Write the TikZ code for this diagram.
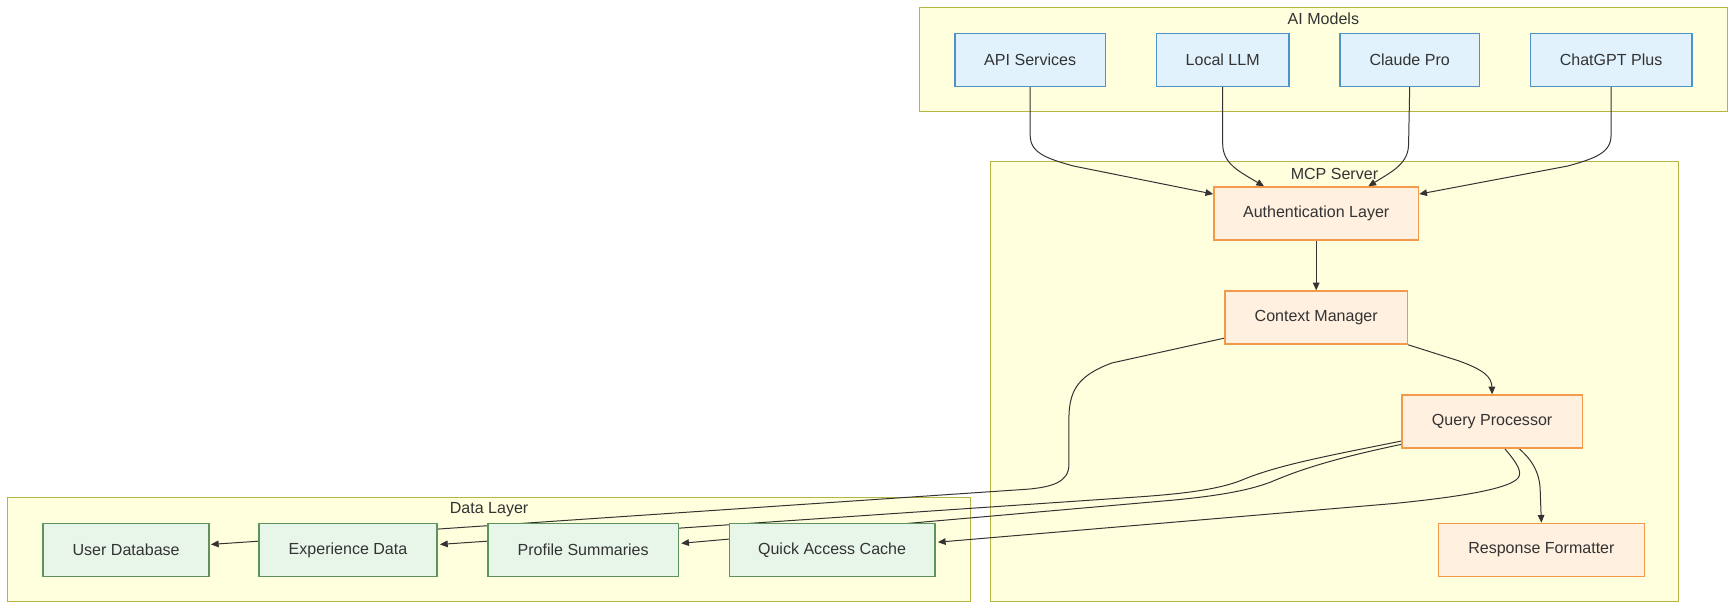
\documentclass[tikz,border=0pt]{standalone}
\usepackage{fontspec}
\setmainfont{Liberation Sans}
\usetikzlibrary{arrows.meta,calc}
\definecolor{clfill}{HTML}{FFFFDE}
\definecolor{cldraw}{HTML}{B5B545}
\definecolor{aifill}{HTML}{E1F2FC}
\definecolor{aidraw}{HTML}{4E92C9}
\definecolor{mcpfill}{HTML}{FFF0DF}
\definecolor{mcpdraw}{HTML}{F09A4A}
\definecolor{dfill}{HTML}{E8F5E9}
\definecolor{ddraw}{HTML}{5E925E}
\definecolor{txt}{HTML}{333333}
\definecolor{edge}{HTML}{333333}
\pgfdeclarelayer{bg}
\pgfdeclarelayer{edges}
\pgfsetlayers{bg,edges,main}
\tikzset{
  base/.style={rectangle, minimum height=48pt, inner sep=0pt, line width=1.2pt,
    font=\fontsize{14.5}{17}\selectfont, text=txt},
  ainode/.style={base, fill=aifill, draw=aidraw},
  mcpnode/.style={base, fill=mcpfill, draw=mcpdraw},
  dnode/.style={base, fill=dfill, draw=ddraw},
  cluster/.style={fill=clfill, draw=cldraw, line width=0.9pt},
  cltitle/.style={font=\fontsize{14.5}{17}\selectfont, text=txt, inner sep=0pt},
  conn/.style={draw=edge, line width=0.9pt, -{Triangle[length=7pt,width=6pt]}}
}
\begin{document}
\begin{tikzpicture}[x=1pt,y=-1pt]
\useasboundingbox (0,0) rectangle (1568,552.2);
% clusters
\begin{pgfonlayer}{bg}
\draw[cluster] (831,7) rectangle (1561,101);
\draw[cluster] (895,146) rectangle (1517,544);
\draw[cluster] (7,450) rectangle (877,544);
\end{pgfonlayer}
\node[cltitle] (tai) at (1196,17) {AI Models};
\node[cltitle] (tmcp) at (1206,157) {MCP Server};
\node[cltitle] (tdata) at (442,461) {Data Layer};
% AI nodes
\node[ainode, minimum width=136pt] (api) at (931,54) {API Services};
\node[ainode, minimum width=120pt] (llm) at (1105,54) {Local LLM};
\node[ainode, minimum width=126pt] (claude) at (1274,54) {Claude Pro};
\node[ainode, minimum width=146pt] (gpt) at (1456,54) {ChatGPT Plus};
% MCP nodes
\node[mcpnode, minimum width=185pt] (auth) at (1189.5,193) {Authentication Layer};
\node[mcpnode, minimum width=165pt] (cm) at (1189.5,287) {Context Manager};
\node[mcpnode, minimum width=163pt] (qp) at (1348.5,381) {Query Processor};
\node[mcpnode, minimum width=186pt] (rf) at (1393,497) {Response Formatter};
% Data nodes
\node[dnode, minimum width=150pt] (ud) at (114,497) {User Database};
\node[dnode, minimum width=161pt] (ed) at (314.5,497) {Experience Data};
\node[dnode, minimum width=172pt] (ps) at (527,497) {Profile Summaries};
\node[dnode, minimum width=186pt] (qac) at (752,497) {Quick Access Cache};
% connectors
\begin{pgfonlayer}{edges}
\draw[conn] (api.south) -- (931,122) .. controls (931,138) and (945,143) .. (970,150) -- ($(auth.north west)+(0,7)$);
\draw[conn] (llm.south) -- (1105,130) .. controls (1105,148) and (1120,155) .. ($(auth.north west)+(46,0)$);
\draw[conn] (claude.south) -- (1273,130) .. controls (1273,148) and (1258,155) .. ($(auth.north east)+(-46,0)$);
\draw[conn] (gpt.south) -- (1456,122) .. controls (1456,138) and (1442,143) .. (1417,150) -- ($(auth.north east)+(0,7)$);
\draw[conn] (auth.south) -- (cm.north);
\draw[conn] (cm.south east) -- (1318,326) .. controls (1340,334) and (1348,340) .. (qp.north);
\draw[conn] ($(cm.south west)+(0,-6)$) -- (1005,328) .. controls (972,340) and (966,355) .. (966,380) -- (966,420) .. controls (966,436) and (950,440) .. (930,442) -- ($(ud.east)+(1,-5)$);
\draw[conn] ($(qp.south west)+(0,-7)$) .. controls (1205,411) and (1155,420) .. (1122,434) .. controls (1102,442) and (1072,446) .. (1030,449) -- ($(ed.east)+(2,-5)$);
\draw[conn] ($(qp.south west)+(0,-4)$) .. controls (1212,413) and (1178,423) .. (1150,435) .. controls (1130,443) and (1102,448) .. (1060,452) -- ($(ps.east)+(2,-6)$);
\draw[conn] ($(qp.south)+(11.5,0)$) .. controls (1368,415) and (1375,424) .. (1373,430) .. controls (1370,440) and (1330,448) .. (1260,455) -- ($(qac.east)+(2,-7)$);
\draw[conn] ($(qp.south)+(24.5,0)$) .. controls (1385,416) and (1392,428) .. (1392,445) -- (rf.north);
\end{pgfonlayer}
\end{tikzpicture}
\end{document}
